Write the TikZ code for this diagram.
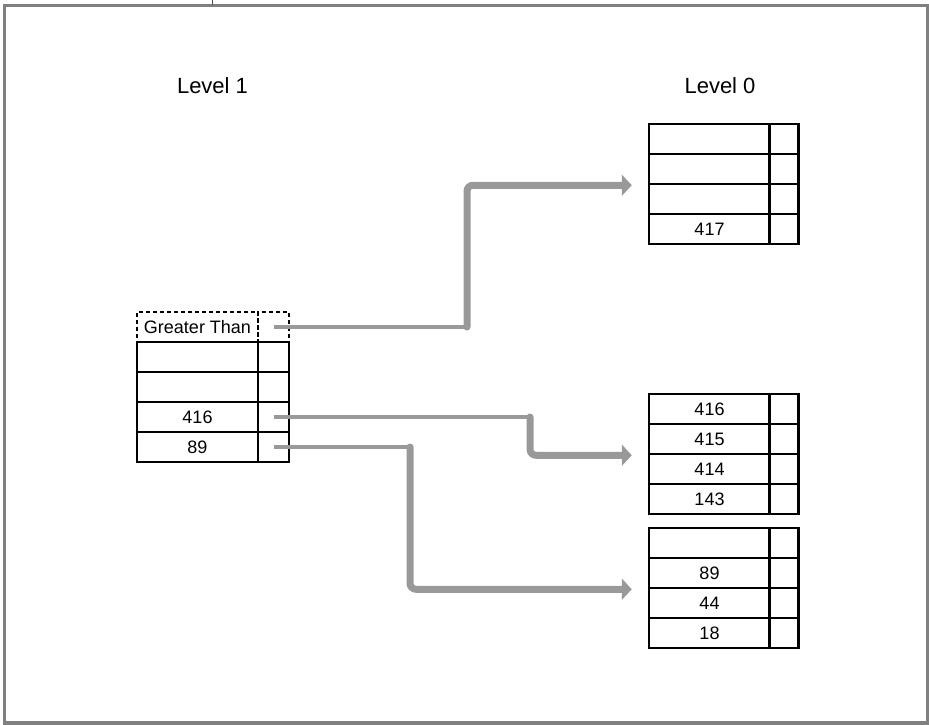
\documentclass[tikz,border=0pt]{standalone}
\usepackage{fontspec}
\setmainfont{Liberation Sans}
\usetikzlibrary{arrows.meta}
\definecolor{linkgray}{HTML}{999999}
\definecolor{framegray}{HTML}{808080}

\begin{document}
\begin{tikzpicture}[x=1pt,y=-1pt,
	key/.style={draw,line width=2.5pt,minimum width=121pt,minimum height=30pt,inner sep=0pt,font=\fontsize{18}{20}\selectfont},
	ptr/.style={draw,line width=2.5pt,minimum width=29pt,minimum height=30pt,inner sep=0pt},
	guess/.style={line width=2pt,dash pattern=on 4pt off 3pt},
	link/.style={draw=linkgray,line width=3.5pt},
	bigarrow/.style={draw=linkgray,line width=7pt,rounded corners=6pt,line cap=round,-{Triangle[length=10pt,width=21pt]}}]
	\useasboundingbox (0,0) rectangle (929,725);
	\draw[framegray,line width=3pt] (4.5,5.5) rectangle (927,722);
	\draw[framegray,line width=2pt] (3,723.5) -- (928.5,723.5);
	\draw[black!70,line width=1pt] (212,0) -- (212,5);

	\node[font=\fontsize{22}{26}\selectfont] (level-one) at (212.5,86) {Level 1};
	\node[font=\fontsize{22}{26}\selectfont] (level-zero) at (720,86) {Level 0};

	\node[key,guess] (gt) at (197.5,327) {Greater Than};
	\node[ptr,guess,minimum width=31pt] (gt-p) at (273.5,327) {};
	\node[key] (e1) at (197.5,357) {};
	\node[ptr,minimum width=31pt] (e1-p) at (273.5,357) {};
	\node[key] (e2) at (197.5,387) {};
	\node[ptr,minimum width=31pt] (e2-p) at (273.5,387) {};
	\node[key] (k416) at (197.5,417) {416};
	\node[ptr,minimum width=31pt] (k416-p) at (273.5,417) {};
	\node[key] (k89) at (197.5,447) {89};
	\node[ptr,minimum width=31pt] (k89-p) at (273.5,447) {};

	\node[key] (a1) at (709.5,139) {};
	\node[ptr] (a1-p) at (784,139) {};
	\node[key] (a2) at (709.5,169) {};
	\node[ptr] (a2-p) at (784,169) {};
	\node[key] (a3) at (709.5,199) {};
	\node[ptr] (a3-p) at (784,199) {};
	\node[key] (a4) at (709.5,229) {417};
	\node[ptr] (a4-p) at (784,229) {};

	\node[key] (b1) at (709.5,409) {416};
	\node[ptr] (b1-p) at (784,409) {};
	\node[key] (b2) at (709.5,439) {415};
	\node[ptr] (b2-p) at (784,439) {};
	\node[key] (b3) at (709.5,469) {414};
	\node[ptr] (b3-p) at (784,469) {};
	\node[key] (b4) at (709.5,499) {143};
	\node[ptr] (b4-p) at (784,499) {};

	\node[key] (c1) at (709.5,543) {};
	\node[ptr] (c1-p) at (784,543) {};
	\node[key] (c2) at (709.5,573) {89};
	\node[ptr] (c2-p) at (784,573) {};
	\node[key] (c3) at (709.5,603) {44};
	\node[ptr] (c3-p) at (784,603) {};
	\node[key] (c4) at (709.5,633) {18};
	\node[ptr] (c4-p) at (784,633) {};

	\coordinate (turn-a) at (467,0);
	\coordinate (turn-b) at (530,0);
	\coordinate (turn-c) at (410,0);

	\draw[link] (gt-p.center) -- (gt-p.center -| turn-a);
	\draw[bigarrow] (gt-p.center -| turn-a) |- ([xshift=-16pt]a2.south west);
	\draw[link] (k416-p.center) -- (k416-p.center -| turn-b);
	\draw[bigarrow] (k416-p.center -| turn-b) |- ([xshift=-16pt]b2.south west);
	\draw[link] (k89-p.center) -- (k89-p.center -| turn-c);
	\draw[bigarrow] (k89-p.center -| turn-c) |- ([xshift=-16pt]c2.south west);
\end{tikzpicture}
\end{document}
